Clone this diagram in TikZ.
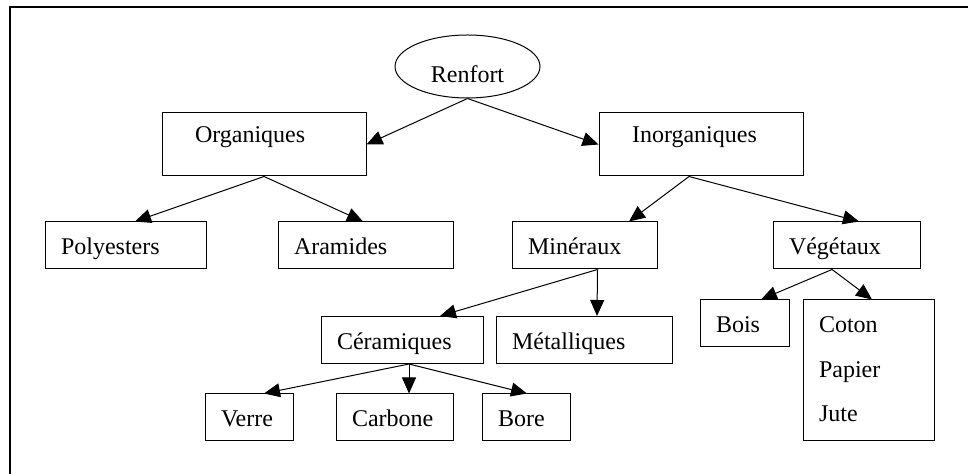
\documentclass[tikz,border=0pt]{standalone}
\usepackage{fontspec}
\setmainfont{Liberation Serif}
\usepackage{tikz}
\usetikzlibrary{arrows.meta,shapes.geometric}

\begin{document}
\begin{tikzpicture}[
  x=0.5pt, y=-0.5pt,
  font=\fontsize{12}{14.5}\selectfont,
  box/.style={draw, line width=0.5pt, align=left, inner xsep=8pt, inner ysep=0pt,
    text height=16.5pt, text depth=7pt},
  bigbox/.style={box, inner xsep=16.5pt, text height=15pt, text depth=16.5pt},
  arr/.style={-{Triangle[length=8pt, width=7pt]}, line width=0.5pt},
]
\useasboundingbox (0,0) rectangle (968,474);

% Frame
\draw[line width=1pt] (9.5,474) -- (9.5,7) -- (968,7);

% Root
\node[draw, ellipse, line width=0.5pt, inner sep=0pt, minimum width=72.5pt,
  minimum height=31.5pt, text height=17pt, text depth=0.5pt] (ren) at (467.5,66.5) {Renfort};

% Level 1
\node[bigbox, text width=69pt] (org) at (264,144.5) {Organiques};
\node[bigbox, text width=69pt] (ino) at (701,144.5) {Inorganiques};

% Level 2
\node[box, text width=64.5pt] (pol) at (125.5,245.5) {Polyesters};
\node[box, text width=71.5pt] (ara) at (365.5,245.5) {Aramides};
\node[box, text width=56.5pt] (min) at (584.5,245.5) {Minéraux};
\node[box, text width=57.5pt] (veg) at (846.5,245.5) {Végétaux};

% Level 3
\node[box, text width=65pt] (cer) at (402,340) {Céramiques};
\node[box, text width=72pt] (met) at (584,340) {Métalliques};
\node[box, text width=28.5pt] (bois) at (744.5,323.5) {Bois};
\node[box, text width=49.5pt, font=\fontsize{12}{22.25}\selectfont,
  text height=16.5pt, text depth=54pt] (fib) at (868.5,370.5) {Coton\\Papier\\Jute};

% Level 4
\node[box, text width=28pt] (ver) at (249,417.5) {Verre};
\node[box, text width=42.5pt] (car) at (394.5,417.5) {Carbone};
\node[box, text width=28pt] (bor) at (526,417.5) {Bore};

% Arrows
\draw[arr] (ren.south) -- (org.east);
\draw[arr] (ren.south) -- (ino.west);
\draw[arr] (org.south) -- ([xshift=4.75pt]pol.north);
\draw[arr] (org.south) -- ([xshift=-1.25pt]ara.north);
\draw[arr] ([xshift=-6pt]ino.south) -- ([xshift=22.25pt]min.north);
\draw[arr] ([xshift=-6pt]ino.south) -- ([xshift=6.25pt]veg.north);
\draw[arr] ([xshift=6.5pt]min.south) -- ([xshift=19pt]cer.north);
\draw[arr] ([xshift=6.5pt]min.south) -- ([xshift=6.5pt]met.north);
\draw[arr] ([xshift=-7.25pt]veg.south) -- ([xshift=8.25pt]bois.north);
\draw[arr] ([xshift=-7.25pt]veg.south) -- ([xshift=1.75pt]fib.north);
\draw[arr] ([xshift=3.5pt]cer.south) -- ([xshift=7.5pt]ver.north);
\draw[arr] ([xshift=3.5pt]cer.south) -- ([xshift=7.25pt]car.north);
\draw[arr] ([xshift=3.5pt]cer.south) -- ([xshift=0.5pt]bor.north);

\end{tikzpicture}
\end{document}
